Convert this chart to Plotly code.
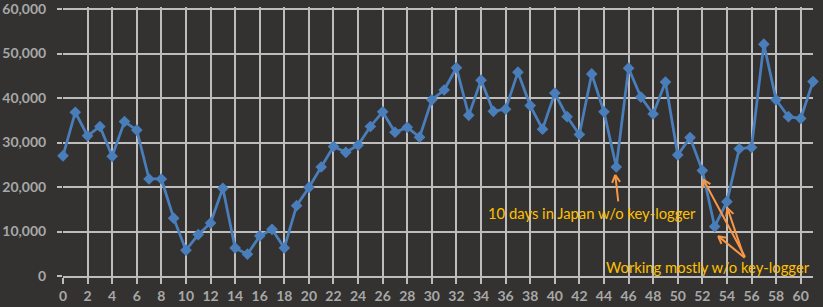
import math
import plotly.graph_objects as go

# ---- data ----
days = list(range(0, 62))
keystrokes = [
    27000, 36800, 31500, 33600, 26900, 34700, 32800, 21800, 21800, 13000,
    5800, 9300, 11900, 19700, 6300, 4900, 9000, 10500, 6300, 15800,
    19900, 24500, 29100, 27800, 29400, 33600, 36900, 32300, 33400, 31200,
    39600, 41800, 46800, 36100, 44000, 37000, 37500, 45800, 38300, 33000,
    41100, 35800, 31800, 45400, 36900, 24500, 46700, 40200, 36400, 43600,
    27200, 31100, 23700, 11100, 16700, 28600, 28900, 52100, 39600, 35800,
    35400, 43700,
]
y_ticks = [0, 10000, 20000, 30000, 40000, 50000, 60000]
y_tick_labels = ["0", "10,000", "20,000", "30,000", "40,000", "50,000", "60,000"]
note_japan = "10 days in Japan w/o key-logger"
note_work = "Working mostly w/o key-logger"

W, H = 823, 307
ML, MR, MB = 63, 10, 31
XMAX, YMAX = 61, 60000
ys = 267 / YMAX                # px per y unit
Y_TOP = YMAX + 2 / ys          # 2 px headroom so the top gridline is drawn
MT = H - MB - round(Y_TOP * ys)
xs = (W - ML - MR) / XMAX      # px per x unit

BG = "#333230"
GRID = "#bdbdbd"
TICKC = "#a8a8a8"
LINE = "#4a7ebb"
ARROW = "#f79646"
NOTE = "#ffc000"
FONT = "Lato"

fig = go.Figure()
fig.add_trace(go.Scatter(
    x=days, y=keystrokes, mode="lines+markers",
    line=dict(color=LINE, width=2.75),
    marker=dict(symbol="diamond", size=9, color=LINE),
    hoverinfo="skip", showlegend=False, cliponaxis=False,
))

annotations = []

def arrow(i, hdx, hdy, ax, ay, arm=9, ang=28):
    """Open-V arrow whose head sits (hdx, hdy) px from point i, tail offset (ax, ay) px from head."""
    hx = days[i] + hdx / xs
    hy = keystrokes[i] - hdy / ys
    annotations.append(dict(x=hx, y=hy, xref="x", yref="y", ax=ax, ay=ay,
                            text="", showarrow=True, arrowhead=0, arrowwidth=2,
                            arrowcolor=ARROW, standoff=0, borderpad=0))
    L = math.hypot(ax, ay)
    ux, uy = ax / L, ay / L
    for s in (-1, 1):
        a = math.radians(ang) * s
        ex = (ux * math.cos(a) - uy * math.sin(a)) * arm
        ey = (ux * math.sin(a) + uy * math.cos(a)) * arm
        annotations.append(dict(x=hx, y=hy, xref="x", yref="y", ax=ex, ay=ey,
                                text="", showarrow=True, arrowhead=0, arrowwidth=2,
                                arrowcolor=ARROW, standoff=0, borderpad=0))

arrow(45, -1, 8, 3, 27)
arrow(52, 1, 9, 42, 78)
arrow(53, 3.5, 9.5, 27, 22)
arrow(54, 0.5, 6.5, 17, 50)

annotations.append(dict(x=(592 - ML) / xs, y=(H - MB - 213) / ys, xref="x", yref="y",
                        text=note_japan, showarrow=False,
                        font=dict(family=FONT, size=14.8, color=NOTE)))
annotations.append(dict(x=(708 - ML) / xs, y=(H - MB - 267) / ys, xref="x", yref="y",
                        text=note_work, showarrow=False,
                        font=dict(family=FONT, size=14.8, color=NOTE)))

fig.update_layout(
    width=W, height=H,
    margin=dict(l=ML, r=MR, t=MT, b=MB),
    paper_bgcolor=BG, plot_bgcolor=BG,
    font=dict(family=FONT, color=TICKC),
    annotations=annotations,
    xaxis=dict(
        range=[0, XMAX], tickmode="linear", tick0=0, dtick=2,
        showgrid=True, gridcolor=GRID, gridwidth=1.5,
        showline=True, linecolor=GRID, linewidth=1.5,
        ticks="outside", ticklen=6, tickcolor=GRID, tickwidth=1.5,
        tickfont=dict(family=FONT, size=14, color=TICKC, weight="bold"),
        zeroline=False, fixedrange=True, automargin=False,
        ticklabeloverflow="allow",
    ),
    yaxis=dict(
        range=[0, Y_TOP], tickmode="array", tickvals=y_ticks, ticktext=y_tick_labels,
        showgrid=True, gridcolor=GRID, gridwidth=1.5,
        showline=False, zeroline=False,
        ticks="outside", ticklen=5, tickcolor=GRID, tickwidth=1.5,
        ticklabelstandoff=8,
        tickfont=dict(family=FONT, size=14, color=TICKC, weight="bold"),
        fixedrange=True, automargin=False,
        ticklabeloverflow="allow",
    ),
)

fig.write_html("out.html")
